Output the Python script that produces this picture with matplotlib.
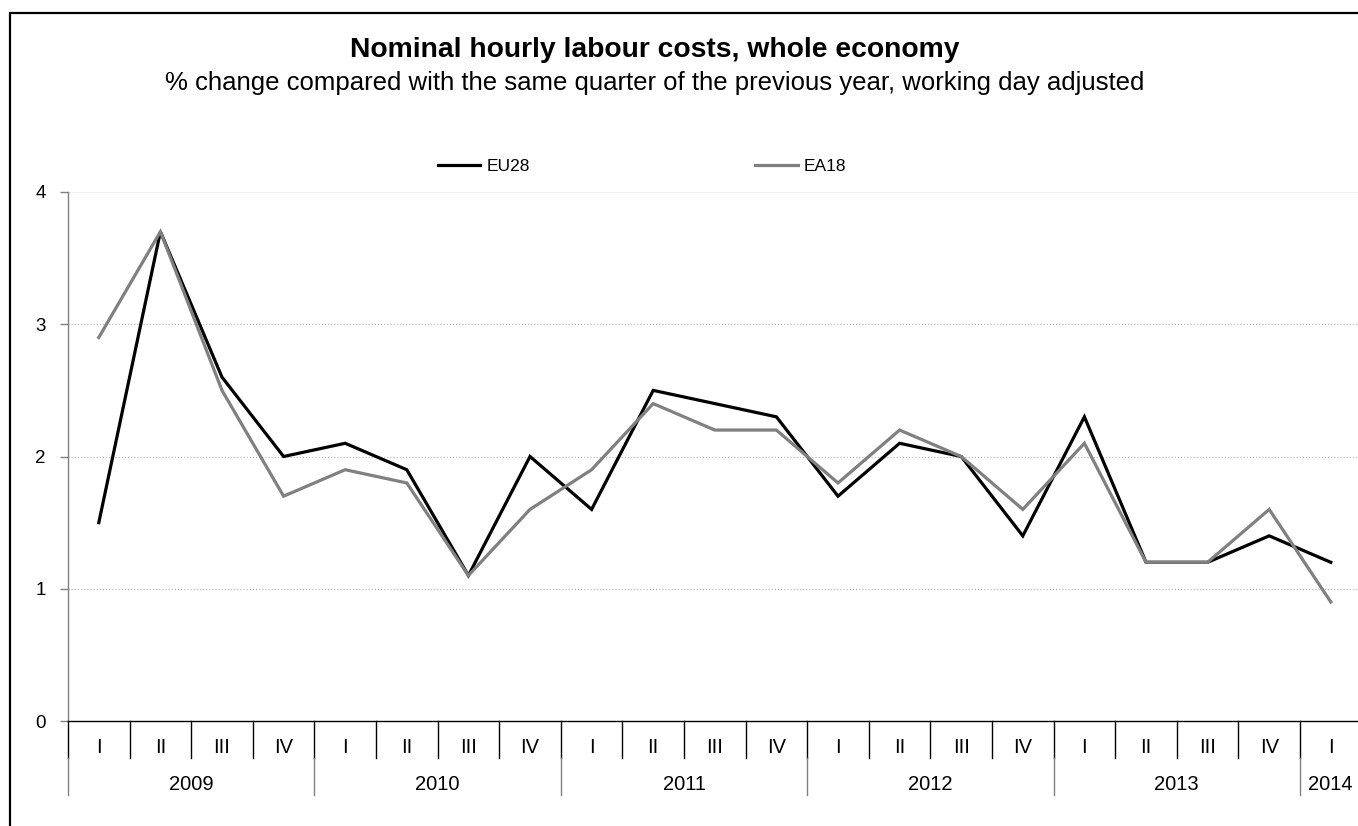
import matplotlib
matplotlib.use("Agg")
import matplotlib.pyplot as plt
from matplotlib.patches import Rectangle

plt.rcParams['font.family'] = ['Liberation Sans', 'DejaVu Sans']

quarters = ["I", "II", "III", "IV"] * 5 + ["I"]
years = ["2009", "2010", "2011", "2012", "2013", "2014"]
year_spans = [4, 4, 4, 4, 4, 1]
eu28 = [1.5, 3.7, 2.6, 2.0, 2.1, 1.9, 1.1, 2.0, 1.6, 2.5, 2.4, 2.3,
        1.7, 2.1, 2.0, 1.4, 2.3, 1.2, 1.2, 1.4, 1.2]
ea18 = [2.9, 3.7, 2.5, 1.7, 1.9, 1.8, 1.1, 1.6, 1.9, 2.4, 2.2, 2.2,
        1.8, 2.2, 2.0, 1.6, 2.1, 1.2, 1.2, 1.6, 0.9]

W, H = 1358, 826
fig = plt.figure(figsize=(W / 100, H / 100), dpi=100)

# outer frame (cut off at right and bottom like the original)
fig.patches.append(Rectangle((10 / W, -0.2), 1.2, 1.2 - 13 / H,
                             transform=fig.transFigure, fill=False,
                             edgecolor="black", linewidth=1.6))

n = len(quarters)
cat_w = 61.6
ax = fig.add_axes([68 / W, 1 - 721 / H, n * cat_w / W, (721 - 192) / H])

x = [i + 0.5 for i in range(n)]
ax.plot(x, eu28, color="black", lw=2.3, label="EU28", solid_joinstyle="miter")
ax.plot(x, ea18, color="#808080", lw=2.3, label="EA18", solid_joinstyle="miter")

ax.set_xlim(0, n)
ax.set_ylim(0, 4)
ax.set_yticks([0, 1, 2, 3, 4])
for v in [1, 2, 3]:
    ax.axhline(v, color="#bdbdbd", lw=0.9, ls=(0, (1, 1.5)), zorder=0)
ax.axhline(4, color="#f0f0f0", lw=0.8, zorder=0)

for s in ["top", "right"]:
    ax.spines[s].set_visible(False)
ax.spines["left"].set_color("#808080")
ax.spines["left"].set_linewidth(1.0)
ax.spines["bottom"].set_color("black")
ax.spines["bottom"].set_linewidth(1.0)
ax.tick_params(axis="y", length=6, width=1, color="#808080", pad=10, labelsize=13.5)
ax.set_xticks([])

# category axis: quarters and years
tr = ax.get_xaxis_transform()
span_px = 721 - 192
q_depth = (758 - 721) / span_px
y_depth = (795 - 721) / span_px
for i, q in enumerate(quarters):
    ax.text(i + 0.5, -(753 - 721) / span_px, q, transform=tr, ha="center",
            va="baseline", fontsize=14.5, clip_on=False)
for i in range(n + 1):
    ax.plot([i, i], [0, -q_depth], transform=tr, color="black", lw=1.0,
            clip_on=False)
start = 0
for yr, span in zip(years, year_spans):
    ax.text(start + span / 2, -(790 - 721) / span_px, yr, transform=tr,
            ha="center", va="baseline", fontsize=14.5, clip_on=False)
    ax.plot([start, start], [-q_depth, -y_depth], transform=tr,
            color="#808080", lw=1.0, clip_on=False)
    start += span
ax.plot([start, start], [-q_depth, -y_depth], transform=tr,
        color="#808080", lw=1.0, clip_on=False)

fig.legend(loc="center", bbox_to_anchor=(642 / W, 1 - 166 / H), ncol=2,
           frameon=False, fontsize=12.5, handlelength=2.47, handletextpad=0.35,
           columnspacing=12.96)

fig.text(655 / W, 1 - 57 / H, "Nominal hourly labour costs, whole economy",
         ha="center", va="baseline", fontsize=20.3, fontweight="bold")
fig.text(655 / W, 1 - 90 / H,
         "% change compared with the same quarter of the previous year, working day adjusted",
         ha="center", va="baseline", fontsize=18.5)

fig.savefig("out.png", dpi=100)
